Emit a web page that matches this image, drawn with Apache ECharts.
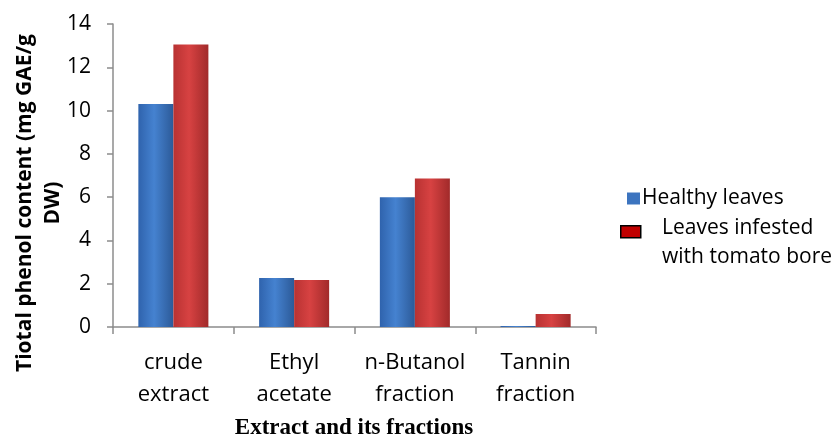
<!DOCTYPE html>
<html>
<head>
<meta charset="utf-8">
<script src="https://cdn.jsdelivr.net/npm/echarts@6/dist/echarts.min.js"></script>
<style>html,body{margin:0;padding:0;background:#fff}#c{width:834px;height:441px}</style>
</head>
<body>
<div id="c"></div>
<script>
var categories = ['crude\nextract', 'Ethyl\nacetate', 'n-Butanol\nfraction', 'Tannin\nfraction'];
var healthy = [10.3, 2.26, 6.0, 0.05];
var infested = [13.05, 2.17, 6.86, 0.6];
var seriesNames = ['Healthy leaves', 'Leaves infested with tomato bore'];
var legendLabel2 = ['Leaves infested', 'with tomato bore'];
var yTitle = ['Tiotal phenol content (mg GAE/g', 'DW)'];
var xTitle = 'Extract and its fractions';

var blueGrad = new echarts.graphic.LinearGradient(0, 0, 1, 0, [
  {offset: 0, color: '#2f63ad'}, {offset: 0.45, color: '#4582d0'}, {offset: 1, color: '#2c5a98'}]);
var redGrad = new echarts.graphic.LinearGradient(0, 0, 1, 0, [
  {offset: 0, color: '#b83232'}, {offset: 0.45, color: '#d74242'}, {offset: 1, color: '#a12a2a'}]);

var chart = echarts.init(document.getElementById('c'));
chart.setOption({
  animation: false,
  grid: {left: 113, right: 238, top: 24, bottom: 114},
  legend: [{
    left: 622, top: 183, itemWidth: 13, itemHeight: 12, itemGap: 0,
    data: [{name: seriesNames[0], icon: 'rect', itemStyle: {color: '#3c74bf'}}],
    textStyle: {fontFamily: 'Open Sans', fontSize: 21, color: '#000', padding: [0, 0, 0, -3]}
  }, {
    left: 615, top: 220, itemWidth: 20, itemHeight: 12,
    data: [{name: seriesNames[1], icon: 'rect', itemStyle: {color: '#c00000', borderColor: '#000', borderWidth: 1.5}}],
    formatter: function () { return ''; },
    textStyle: {fontSize: 10, lineHeight: 10}
  }],
  xAxis: {
    type: 'category', data: categories,
    axisLine: {lineStyle: {color: '#8c8c8c', width: 1.5}},
    axisTick: {show: true, length: 7, lineStyle: {color: '#8c8c8c', width: 1.5}},
    axisLabel: {fontFamily: 'Open Sans', fontSize: 22, color: '#000', lineHeight: 32, margin: 20, interval: 0}
  },
  yAxis: {
    type: 'value', min: 0, max: 14, interval: 2,
    axisLine: {show: true, lineStyle: {color: '#8c8c8c', width: 1.5}},
    axisTick: {show: true, length: 6, lineStyle: {color: '#8c8c8c', width: 1.5}},
    splitLine: {show: false},
    axisLabel: {fontFamily: 'Open Sans', fontSize: 21, color: '#000', margin: 22}
  },
  series: [{
    name: seriesNames[0], type: 'bar', data: healthy, barGap: '0%', barCategoryGap: '42%',
    itemStyle: {color: blueGrad}
  }, {
    name: seriesNames[1], type: 'bar', data: infested,
    itemStyle: {color: redGrad}
  }],
  graphic: [{
    type: 'text', x: 39, y: 203, rotation: Math.PI / 2,
    style: {text: yTitle.join('\n'), font: 'bold 21px "Open Sans"', fill: '#000', align: 'center', verticalAlign: 'middle', lineHeight: 28}
  }, {
    type: 'text', x: 354, y: 428,
    style: {text: xTitle, font: 'bold 23px "Liberation Serif"', fill: '#000', align: 'center', verticalAlign: 'middle'}
  }, {
    type: 'text', x: 662, y: 242.5,
    style: {text: legendLabel2.join('\n'), font: '21px "Open Sans"', fill: '#000', align: 'left', verticalAlign: 'middle', lineHeight: 29}
  }]
});
</script>
</body>
</html>
